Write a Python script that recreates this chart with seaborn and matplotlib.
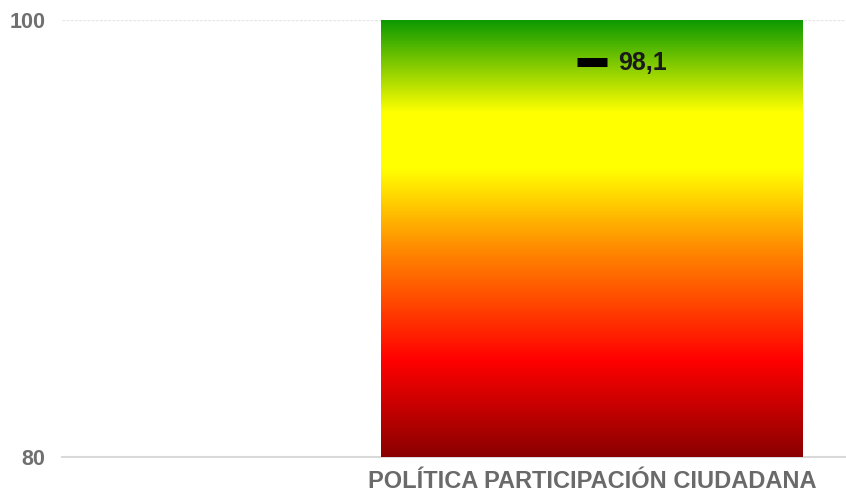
import numpy as np
import pandas as pd
import matplotlib
matplotlib.use("Agg")
import matplotlib.pyplot as plt
from matplotlib.colors import LinearSegmentedColormap
import seaborn as sns

# Data
categories = ["POLÍTICA PARTICIPACIÓN CIUDADANA"]
bar_top = [100]
score = [98.1]
score_labels = ["98,1"]
y_ticks = [80, 100]

# Gradient used to fill the bar (bottom -> top)
grad_positions = [0.0, 0.22, 0.48, 0.66, 0.79, 1.0]
grad_colors = ["#8a0000", "#ff0000", "#ff8c00", "#ffff00", "#ffff00", "#0e9a00"]

sns.set_theme(style="white")
plt.rcParams["font.family"] = ["Liberation Sans", "DejaVu Sans"]

df = pd.DataFrame({"categoria": categories, "tope": bar_top, "valor": score})

fig = plt.figure(figsize=(8.46, 4.96), dpi=100)
ax = fig.add_axes([62 / 846, 1 - 457 / 496, (845 - 62) / 846, (457 - 20) / 496])

sns.barplot(data=df, x="categoria", y="tope", ax=ax, width=1.0,
            color="white", edgecolor="none", zorder=2)

ax.set_ylim(80, 100)
ax.set_xlim(-1.256, 0.6)

# Fill each bar with the vertical gradient
cmap = LinearSegmentedColormap.from_list("semaforo", list(zip(grad_positions, grad_colors)))
grad = np.linspace(0, 1, 512).reshape(-1, 1)
for patch in ax.patches:
    x0 = patch.get_x()
    w = patch.get_width()
    img = ax.imshow(grad, cmap=cmap, origin="lower", aspect="auto",
                    extent=[x0, x0 + w, 80, 100], zorder=3)
    img.set_clip_path(patch)

# Score marker and its label
sns.scatterplot(data=df, x="categoria", y="valor", ax=ax, marker="_", s=480,
                linewidth=6.5, color="black", zorder=5, legend=False)
for i, (v, lab) in enumerate(zip(score, score_labels)):
    ax.annotate(lab, xy=(i, v), xytext=(19, -1), textcoords="offset points",
                ha="left", va="center", fontsize=18, fontweight="bold",
                color="#1a1a1a", zorder=6)

# Axes styling
ax.set_yticks(y_ticks)
ax.set_yticklabels([str(t) for t in y_ticks], fontsize=15.5, fontweight="bold", color="#707070")
ax.tick_params(axis="y", length=0, pad=12)
ax.tick_params(axis="x", length=0, pad=9, labelsize=17, labelcolor="#6a6a6a")
for lab in ax.get_xticklabels():
    lab.set_fontweight("bold")
ax.set_xlabel("")
ax.set_ylabel("")
for s in ["top", "right", "left"]:
    ax.spines[s].set_visible(False)
ax.spines["bottom"].set_color("#d9d9d9")
ax.spines["bottom"].set_linewidth(1.5)
ax.axhline(100, color="#e6e6e6", linewidth=1, linestyle=(0, (2, 1)), zorder=1)

fig.savefig("out.png", dpi=100, facecolor="white")
